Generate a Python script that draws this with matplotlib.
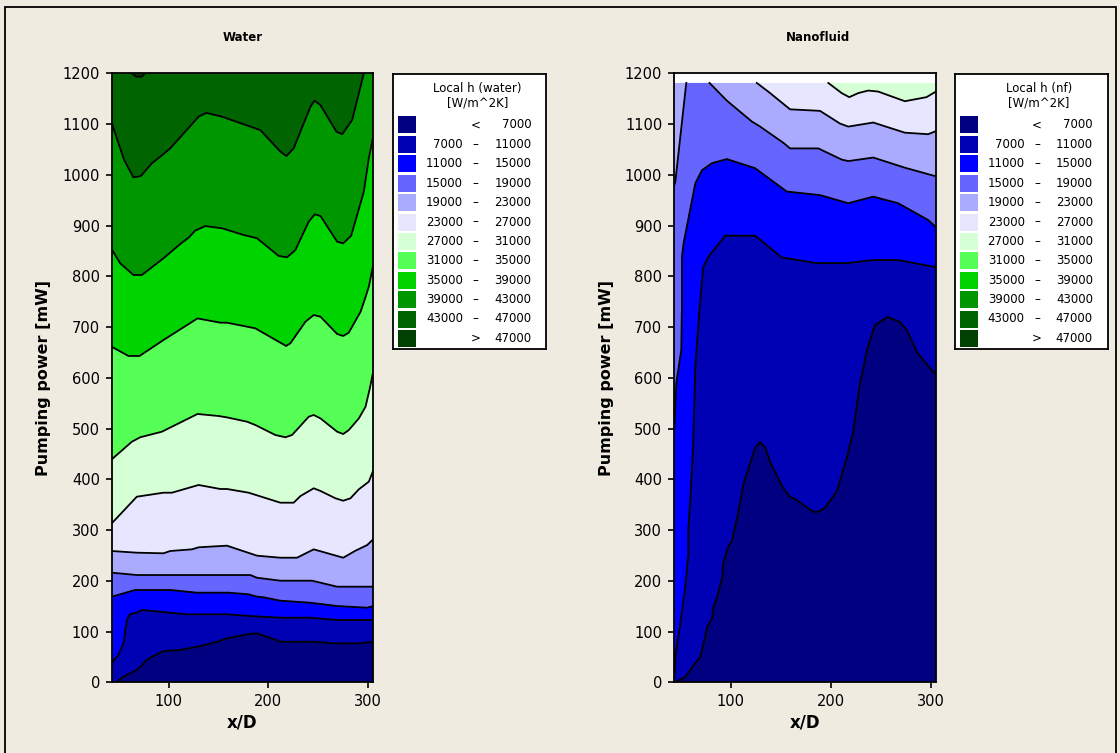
import matplotlib
matplotlib.use("Agg")
import matplotlib.pyplot as plt
from matplotlib.patches import Rectangle

# contour levels and band colours (low -> high)
levels = [7000, 11000, 15000, 19000, 23000, 27000, 31000, 35000, 39000, 43000, 47000]
band_colors = ["#000080", "#0000B4", "#0000FF", "#6666FF", "#AAAAFF", "#E6E6FF",
               "#D5FFD5", "#55FF55", "#00D400", "#009600", "#006400", "#004000"]

x_ticks = [100, 200, 300]
y_ticks = list(range(0, 1201, 100))

# contour lines: (x/D, pumping power mW), one list per segment
# ---- Water ----
w_7000 = [[(48, 0), (54.5, 11), (68.2, 24.2), (78.2, 44), (84.9, 52), (95, 61.7), (111.9, 63.7),
           (132, 71.5), (148.9, 80), (158.7, 86.7), (178.8, 94.6), (188.8, 96.5), (200.5, 88.7),
           (212.3, 80), (245.8, 80), (265.9, 76.8), (292.7, 76.8), (305.4, 80)]]
w_11000 = [[(43.1, 38.6), (49.7, 53.8), (54.8, 76.8), (58.2, 122.8), (61.5, 134.6), (68.2, 137.1),
            (73.2, 142.5), (101.7, 137.1), (118.5, 134), (158.7, 134), (182.1, 130.6),
            (212.3, 127.3), (242.4, 127.3), (269.2, 122.8), (305.4, 122.8)]]
w_15000 = [[(43.1, 168.7), (66.5, 181.9), (101.7, 181.9), (128.5, 176.6), (160.3, 176.6),
            (180.4, 173.4), (188.8, 168.7), (195.5, 167.5), (212.3, 160.8), (242.4, 156.8),
            (269.2, 150.3), (299.4, 147), (305.4, 150.3)]]
w_19000 = [[(43.1, 216), (68.2, 211.4), (128.5, 211.4), (182.1, 211.4), (188.8, 206),
            (212.3, 200.2), (244.1, 200.2), (269.2, 188.4), (305.4, 188.4)]]
w_23000 = [[(43.1, 258.7), (68.2, 255.4), (95, 254.2), (101.7, 258.7), (123.5, 262), (130.2, 266),
            (158.7, 269.2), (188.8, 249.5), (212.3, 245.5), (229, 245.5), (245.7, 262),
            (275.3, 245.5), (287.6, 259.3), (299.4, 270.5), (305.4, 281.8)]]
w_27000 = [[(43.1, 313.3), (68.2, 365.7), (95, 373.6), (103.4, 373.6), (130.2, 388.8), (152, 380.9),
            (158.7, 380.9), (180.4, 373.6), (212.3, 353.9), (225.6, 353.9), (232.4, 367),
            (245.7, 382.3), (252.5, 377), (267.5, 362.6), (275.3, 357.8), (282.6, 362.6),
            (291, 380.3), (301, 395.3), (305.4, 417)]]
w_31000 = [[(43.1, 439.4), (63.2, 474), (71.6, 482.8), (93.4, 493.8), (103.4, 503.6), (129.1, 528.7),
            (150.3, 524.7), (158.7, 522), (178.8, 513.5), (187.1, 507), (207.2, 487.3),
            (217.3, 482.8), (224, 487.3), (240.7, 523.3), (245.7, 526.7), (252.5, 520),
            (269.2, 493.8), (275.3, 489.2), (280.9, 497), (291, 520), (297.7, 543), (302, 579),
            (305.4, 612)]]
w_35000 = [[(43.1, 661), (59.8, 643), (70.9, 643), (95, 674.5), (129.1, 717), (152, 708.6),
            (158.7, 708.6), (187.1, 697.5), (218, 662.7), (222.3, 668), (237.4, 710.5),
            (245.7, 723.7), (252.5, 720.4), (269.2, 686.3), (275.3, 682.4), (280.9, 689),
            (292.7, 730), (296.7, 753), (301, 779.5), (305.4, 822)]]
w_39000 = [[(43.1, 853), (51.5, 825.6), (64.8, 802.6), (73.3, 802.6), (95, 835.5), (111.8, 863.6),
            (120.1, 876), (126.8, 890), (136.9, 899), (153.7, 894.6), (175.4, 881.4), (188.8, 875),
            (210.6, 840), (219, 837.4), (227.3, 851.7), (240.7, 907.6), (246.7, 922),
            (252.5, 918.8), (269.2, 868.2), (275.3, 865), (283.3, 880), (296, 966.7),
            (301, 1032.5), (305.4, 1075)]]
w_43000 = [[(43.1, 1101.5), (55.5, 1029), (64.8, 995), (72.3, 997.6), (83.3, 1022.7), (95, 1041),
            (101.7, 1052), (130.2, 1114.5), (137.9, 1122), (153.7, 1114.5), (192.2, 1088),
            (212.3, 1045.5), (218.3, 1037), (225.6, 1052), (242.4, 1134), (246.4, 1146),
            (252.4, 1137.5), (268.5, 1085), (274.3, 1080), (284.3, 1108), (296, 1200)]]
w_47000 = [[(63.2, 1200), (67.6, 1193.5), (73.3, 1193.5), (76.6, 1200)]]
water_contours = [w_7000, w_11000, w_15000, w_19000, w_23000, w_27000,
                  w_31000, w_35000, w_39000, w_43000, w_47000]
water_top = 1200

# ---- Nanofluid ----
n_7000 = [[(44, 0), (54.3, 10.4), (59.3, 24.2), (64.3, 38), (69.3, 49.9), (72.3, 73.5), (76.3, 109),
           (81.3, 126.7), (82.3, 148), (86.3, 168), (91.3, 207), (92.3, 235), (97.3, 266.7),
           (101.3, 280), (103.3, 300), (107.3, 333.6), (112.3, 389), (124.3, 461.7),
           (129.3, 473.5), (134.3, 463.7), (139.3, 434), (152.3, 383), (159.3, 365),
           (164.3, 361.5), (182.3, 336), (187.3, 336), (194.3, 344), (206.3, 377), (216.3, 444),
           (222.3, 491), (229.3, 590), (232.3, 615), (236.3, 655), (244.3, 704), (257.3, 720),
           (269.3, 710), (276.3, 694), (286.3, 651), (299.3, 619), (305.4, 607)]]
n_11000 = [[(43.3, 2), (44.3, 50), (49.3, 117), (54.3, 188), (57.3, 251), (57.3, 300), (59.3, 359),
            (62.3, 471), (64.3, 621), (69.3, 753), (72.3, 818), (77.3, 838), (94.3, 880),
            (124.3, 880), (151, 837), (186, 826), (217.6, 826), (241, 832), (267.6, 832),
            (305.4, 818)]]
n_15000 = [[(43.1, 490), (45.3, 590), (50.3, 655), (51, 753), (51, 839), (52.6, 865), (64.3, 983),
            (71, 1009), (81, 1023), (96, 1031), (124.3, 1013), (136, 996), (156, 967),
            (189.3, 960), (217.6, 944), (242.6, 957), (267.6, 944), (297.6, 911), (305.4, 897)]]
n_19000 = [[(43.1, 978), (44.3, 986), (55.3, 1181)],
           [(78.6, 1181), (96, 1146), (121, 1105), (129.3, 1095), (152.6, 1063), (159.3, 1052),
            (187.6, 1052), (211, 1030), (217.6, 1027), (242.6, 1034), (274.3, 1014),
            (305.4, 997)]]
n_23000 = [[(126, 1181), (139.3, 1161), (159.3, 1129), (189.3, 1126), (209.3, 1101),
            (217.6, 1095), (242.6, 1103), (274.3, 1083), (297.6, 1080), (305.4, 1086)]]
n_27000 = [[(197.6, 1181), (211, 1161), (218.6, 1153), (227.6, 1161), (237.6, 1166),
            (247.6, 1164), (274.3, 1145), (296, 1153), (305.4, 1164)]]
nf_contours = [n_7000, n_11000, n_15000, n_19000, n_23000, n_27000]
nf_top = 1181

x_min, x_max = 43, 305.5

W, H = 1120, 753
BG = "#EFEBE1"


def rect(left, top, right, bottom):
    return [left / W, 1 - bottom / H, (right - left) / W, (bottom - top) / H]


def below(segs, top):
    xs, ps = [x_min], [0]
    if segs[0][0][1] >= top:
        xs.append(x_min)
        ps.append(top)
    for seg in segs:
        xs += [p[0] for p in seg]
        ps += [p[1] for p in seg]
    if segs[-1][-1][1] >= top:
        xs.append(x_max)
        ps.append(top)
    xs.append(x_max)
    ps.append(0)
    return xs, ps


def draw_panel(ax, contours, top, title, title_x=0.5):
    n = len(contours)
    ax.set_facecolor("white")
    ax.fill([x_min, x_max, x_max, x_min], [0, 0, top, top], color=band_colors[n], lw=0)
    for k in range(n - 1, -1, -1):
        xs, ps = below(contours[k], top)
        ax.fill(xs, ps, color=band_colors[k], lw=0)
    for segs in contours:
        for seg in segs:
            ax.plot([p[0] for p in seg], [p[1] for p in seg], color="black", lw=1.3,
                    solid_joinstyle="round")
    ax.set_xlim(x_min, x_max)
    ax.set_ylim(0, 1200)
    ax.set_xticks(x_ticks)
    ax.set_yticks(y_ticks)
    ax.tick_params(length=4.5, width=1.2, labelsize=10.5, pad=4, color="black")
    for s in ax.spines.values():
        s.set_linewidth(1.3)
    ax.set_xlabel("x/D", fontsize=12, fontweight="bold", labelpad=3)
    ax.set_ylabel("Pumping power [mW]", fontsize=11.5, fontweight="bold", labelpad=8)
    ax.set_title(title, fontsize=8.5, fontweight="bold", pad=23, x=title_x)


def draw_legend(left, title):
    top, bottom, width = 74, 349.3, 153
    lg = fig.add_axes(rect(left, top, left + width, bottom))
    lg.set_xlim(0, width)
    lg.set_ylim(bottom - top, 0)
    lg.set_xticks([])
    lg.set_yticks([])
    lg.set_facecolor("white")
    for s in lg.spines.values():
        s.set_linewidth(1.3)
    lg.text(84, 14.5, title, ha="center", va="center", fontsize=8.5)
    lg.text(84, 29.5, "[W/m^2K]", ha="center", va="center", fontsize=8.5)
    for i, c in enumerate(band_colors):
        yc = 51 + 19.4 * i
        lg.add_patch(Rectangle((5.2, yc - 8.5), 17.4, 17, facecolor=c, edgecolor="none"))
        if i == 0:
            lg.text(82, yc, "<", ha="center", va="center", fontsize=8.5)
            lg.text(138, yc, str(levels[0]), ha="right", va="center", fontsize=8.5)
        elif i == len(band_colors) - 1:
            lg.text(82, yc, ">", ha="center", va="center", fontsize=8.5)
            lg.text(138, yc, str(levels[-1]), ha="right", va="center", fontsize=8.5)
        else:
            lg.text(69.7, yc, str(levels[i - 1]), ha="right", va="center", fontsize=8.5)
            lg.text(82, yc, "\u2013", ha="center", va="center", fontsize=8.5)
            lg.text(138, yc, str(levels[i]), ha="right", va="center", fontsize=8.5)


fig = plt.figure(figsize=(W / 100, H / 100), dpi=100, facecolor=BG)
fig.patches.append(Rectangle((5 / W, -0.05), 1111 / W, 1 - 7 / H + 0.05, transform=fig.transFigure,
                             fill=False, edgecolor="black", lw=1.3))

ax_w = fig.add_axes(rect(111.7, 73.3, 373.3, 682.3))
draw_panel(ax_w, water_contours, water_top, "Water")
ax_n = fig.add_axes(rect(674, 73.3, 936, 682.3))
draw_panel(ax_n, nf_contours, nf_top, "Nanofluid", title_x=0.55)

draw_legend(393.3, "Local h (water)")
draw_legend(955, "Local h (nf)")

fig.savefig("out.png", dpi=100, facecolor=BG)
